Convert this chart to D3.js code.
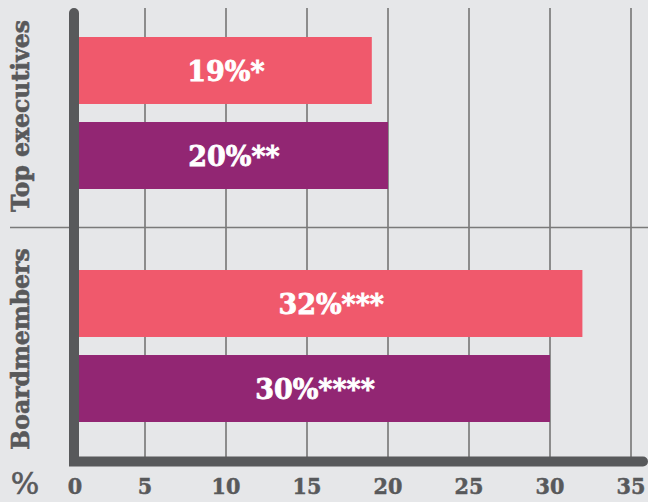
<!DOCTYPE html>
<html><head><meta charset="utf-8">
<script src="https://cdn.jsdelivr.net/npm/d3@7"></script>
<style>
html,body{margin:0;padding:0;background:#E6E7E9;}
svg{display:block;}
</style></head>
<body>
<svg id="chart" width="648" height="502"></svg>
<script>
const categories = ["Top executives", "Boardmembers"];
const seriesA = [19, 32];
const seriesB = [20, 30];
const labelsA = ["19%*", "32%***"];
const labelsB = ["20%**", "30%****"];
const xTicks = [0, 5, 10, 15, 20, 25, 30, 35];

const colA = "#F0596C", colB = "#922673", axisCol = "#58595B", gridCol = "#8C8C8C";
const font = "'DejaVu Serif',serif";

const svg = d3.select("#chart");
const x = d3.scaleLinear().domain([0, 35]).range([64, 631]);
const yGroup = d3.scaleBand().domain(categories).range([-3.5, 462.5]);
const yInner = d3.scaleBand().domain([0, 1]).range([40.5, 192.5]).paddingInner(0.212).paddingOuter(0);

const axisX = 74, gridTop = 8, baseY = 461.5;
const barStart = Math.max(x(0), axisX);

// grid lines
svg.append("g").selectAll("line").data(xTicks.filter(d => d > 0)).join("line")
  .attr("x1", d => x(d)).attr("x2", d => x(d))
  .attr("y1", gridTop).attr("y2", baseY)
  .attr("stroke", gridCol).attr("stroke-width", 2);

// divider
const divY = yGroup(categories[1]) - 2;
svg.append("line").attr("x1", 10).attr("x2", 648).attr("y1", divY).attr("y2", divY)
  .attr("stroke", "#7a7a7a").attr("stroke-width", 1.5);

// bars
const data = [];
categories.forEach((c, i) => {
  data.push({c, s: 0, v: seriesA[i], label: labelsA[i], col: colA});
  data.push({c, s: 1, v: seriesB[i], label: labelsB[i], col: colB});
});
const g = svg.append("g");
g.selectAll("rect").data(data).join("rect")
  .attr("x", barStart).attr("width", d => x(d.v) - barStart)
  .attr("y", d => yGroup(d.c) + yInner(d.s)).attr("height", yInner.bandwidth())
  .attr("fill", d => d.col);
g.selectAll("text").data(data).join("text")
  .attr("x", d => (axisX + 6 + x(d.v)) / 2)
  .attr("y", d => yGroup(d.c) + yInner(d.s) + yInner.bandwidth() / 2 + 1)
  .attr("text-anchor", "middle").attr("dominant-baseline", "central")
  .attr("fill", "#fff").attr("stroke", "#fff").attr("stroke-width", 0.8)
  .attr("font-family", font).attr("font-weight", "bold")
  .attr("font-size", 27).text(d => d.label);

// axes lines
svg.append("path")
  .attr("d", `M${axisX},${gridTop + 5} L${axisX},${baseY} L643,${baseY}`)
  .attr("fill", "none").attr("stroke", axisCol).attr("stroke-width", 10)
  .attr("stroke-linecap", "round").attr("stroke-linejoin", "miter");

// tick labels
svg.append("g").selectAll("text").data(xTicks).join("text")
  .attr("x", d => d === 0 ? axisX + 1 : x(d))
  .attr("y", 485).attr("text-anchor", "middle").attr("dominant-baseline", "central")
  .attr("fill", axisCol).attr("stroke", axisCol).attr("stroke-width", 0.5)
  .attr("font-family", font).attr("font-weight", "bold")
  .attr("font-stretch", "condensed")
  .attr("font-size", 23).text(d => d);

svg.append("text").attr("x", 25).attr("y", 494).attr("text-anchor", "middle")
  .attr("fill", axisCol)
  .attr("stroke", axisCol).attr("stroke-width", 0.6)
  .attr("font-family", font).attr("font-size", 30).text("%");

// category labels
svg.append("g").selectAll("text").data(categories).join("text")
  .attr("transform", d => `translate(29,${yGroup(d) + yGroup.bandwidth() / 2 + 3}) rotate(-90)`)
  .attr("text-anchor", "middle").attr("fill", axisCol)
  .attr("stroke", axisCol).attr("stroke-width", 0.6)
  .attr("font-family", font).attr("font-weight", "bold").attr("font-size", 23.5)
  .text(d => d);
</script>
</body></html>
